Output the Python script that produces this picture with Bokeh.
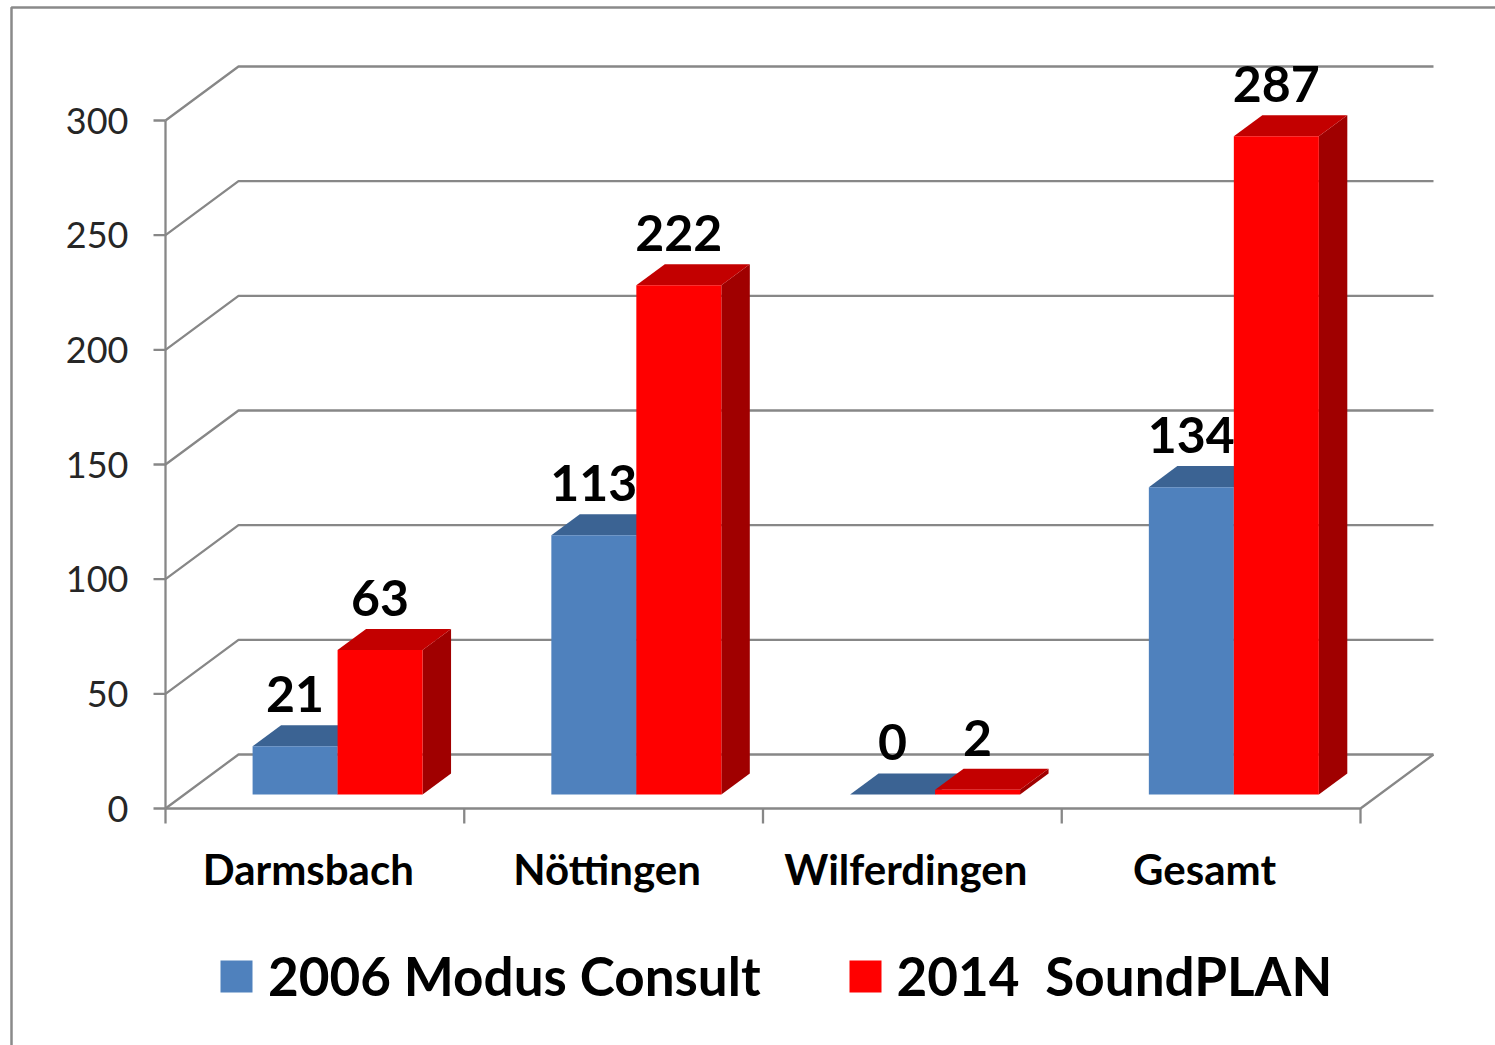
from bokeh.plotting import figure
from bokeh.models import Range1d, Legend, LegendItem
from bokeh.core.properties import value
from bokeh.embed import file_html
from bokeh.resources import INLINE

# ---------------- data ----------------
categories = ["Darmsbach", "Nöttingen", "Wilferdingen", "Gesamt"]
series_names = ["2006 Modus Consult", "2014  SoundPLAN"]
values_2006 = [21, 113, 0, 134]
values_2014 = [63, 222, 2, 287]
y_ticks = [0, 50, 100, 150, 200, 250, 300]
y_tick_labels = ["0", "50", "100", "150", "200", "250", "300"]

# ---------------- geometry (pixels) ----------------
W, H = 1495, 1045
PAGE = 0
AX_X = 165.0          # page x of front value axis
AX_Y = 808.0          # page y of value 0 (front)
CW = (1360.0 - 165.0) / 4   # px per category
S = (808.0 - 120.0) / 300   # px per value unit
DX, DY = 73.0, 54.0   # full depth offset of back wall
F1, F2 = 0.26, 0.65   # bar front / back depth fractions
BAR_W = 0.2845        # bar width in category units
BAR_OFF = 0.228       # first bar left edge in category units

FONT = "Lato"
GRID = "#878787"
BLUE = ["#4F81BD", "#3B6393", "#34578A"]   # front, top, side
RED = ["#FF0000", "#C30000", "#A00000"]


def ddx(d):
    return DX * d / CW


def ddy(d):
    return DY * d / S


def pxx(px):
    return (px - AX_X) / CW


def pxy(py):
    return (AX_Y - py) / S


p = figure(width=W, height=H,
           x_range=Range1d(pxx(PAGE), pxx(PAGE + W)),
           y_range=Range1d(pxy(PAGE + H), pxy(PAGE)),
           output_backend="svg", toolbar_location=None,
           x_axis_type=None, y_axis_type=None, min_border=0,
           outline_line_color=None, background_fill_color="white",
           border_fill_color="white")

ncat = len(categories)

# outer chart border (left + top visible)
p.line(x=[pxx(11), pxx(11), pxx(PAGE + W + 5)],
       y=[pxy(PAGE + H + 5), pxy(7), pxy(7)],
       line_color="#8a8a8a", line_width=2.5)

# back wall / side wall gridlines
gx, gy = [], []
for v in y_ticks:
    gx.append([0, ddx(1), ncat + ddx(1)])
    gy.append([v, v + ddy(1), v + ddy(1)])
# floor front edge + right edge
gx.append([0, ncat, ncat + ddx(1)])
gy.append([0, 0, ddy(1)])
p.multi_line(xs=gx, ys=gy, line_color=GRID, line_width=2.3)

# value axis line + ticks
p.segment(x0=[0], y0=[min(y_ticks)], x1=[0], y1=[max(y_ticks)],
          line_color=GRID, line_width=2.3)
p.segment(x0=[-12 / CW] * len(y_ticks), y0=y_ticks,
          x1=[0] * len(y_ticks), y1=y_ticks, line_color=GRID, line_width=2.3)
cat_edges = list(range(ncat + 1))
p.segment(x0=cat_edges, y0=[0] * len(cat_edges), x1=cat_edges,
          y1=[-15 / S] * len(cat_edges), line_color=GRID, line_width=2.3)

# tick labels
p.text(x=[0] * len(y_ticks), y=y_ticks, text=y_tick_labels, x_offset=-37,
       text_align="right", text_baseline="middle", text_font=value(FONT),
       text_font_size="36px", text_color="#262626")

# category labels
p.text(x=[i + 0.478 for i in range(ncat)], y=[0] * ncat, text=categories,
       y_offset=60, text_align="center", text_baseline="middle",
       text_font=value(FONT), text_font_style="bold", text_font_size="42px",
       text_color="black")

# ---------------- 3D bars ----------------
fronts = []
for j, (vals, cols) in enumerate([(values_2006, BLUE), (values_2014, RED)]):
    left, right, bottom, top = [], [], [], []
    tx, ty, sx, sy = [], [], [], []
    lab_x, lab_y = [], []
    for i, v in enumerate(vals):
        x0 = i + BAR_OFF + j * BAR_W + ddx(F1)
        x1 = x0 + BAR_W
        y0 = ddy(F1)
        y1 = y0 + v
        d = ddx(F2 - F1)
        e = ddy(F2 - F1)
        left.append(x0); right.append(x1); bottom.append(y0); top.append(y1)
        tx.append([x0, x0 + d, x1 + d, x1])
        ty.append([y1, y1 + e, y1 + e, y1])
        sx.append([x1, x1, x1 + d, x1 + d])
        sy.append([y0, y1, y1 + e, y0 + e])
        lab_x.append((x0 + x1) / 2)
        lab_y.append(y1 + e)
    p.patches(xs=sx, ys=sy, fill_color=cols[2], line_color=None)
    p.patches(xs=tx, ys=ty, fill_color=cols[1], line_color=None)
    fr = p.quad(left=left, right=right, bottom=bottom, top=top,
                fill_color=cols[0], line_color=None)
    fronts.append(fr)
    p.text(x=lab_x, y=lab_y, text=[str(v) for v in vals], y_offset=-31,
           text_align="center", text_baseline="middle",
           text_font=value(FONT), text_font_style="bold",
           text_font_size="50px", text_color="black")

# ---------------- legend ----------------
legend = Legend(items=[LegendItem(label=series_names[0], renderers=[fronts[0]]),
                       LegendItem(label=series_names[1], renderers=[fronts[1]])],
                orientation="horizontal", location=(216, 38),
                glyph_width=40, glyph_height=40, label_standoff=12,
                spacing=84, padding=0, margin=0,
                label_text_font=FONT, label_text_font_style="bold",
                label_text_font_size="53px", label_text_color="black",
                border_line_alpha=0, background_fill_alpha=0)
p.add_layout(legend)

open("out.html", "w").write(file_html(p, INLINE))
